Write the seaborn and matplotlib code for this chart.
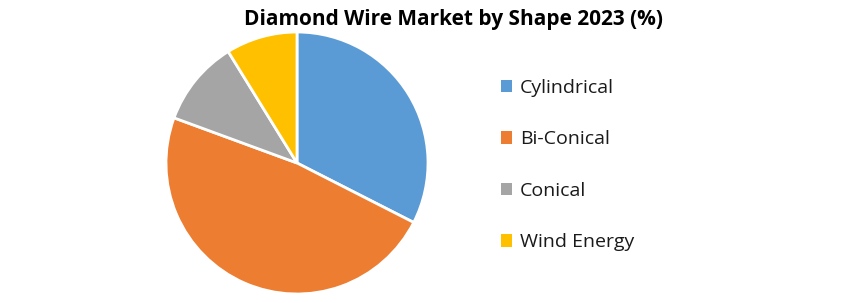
import matplotlib
matplotlib.use("Agg")
import matplotlib.pyplot as plt
import seaborn as sns
from matplotlib.patches import Patch

categories = ["Cylindrical", "Bi-Conical", "Conical", "Wind Energy"]
values = [32.5, 48.1, 10.6, 8.8]
colors = ["#5B9BD5", "#ED7D31", "#A5A5A5", "#FFC000"]
title = "Diamond Wire Market by Shape 2023 (%)"

sns.set_theme(style="white")
plt.rcParams["font.family"] = ["Open Sans", "DejaVu Sans"]
palette = sns.color_palette(colors)

W, H = 864, 303
fig = plt.figure(figsize=(W / 100, H / 100), dpi=100)
cx, cy, r = 297, 163, 131
ax = fig.add_axes([(cx - r) / W, (H - cy - r) / H, 2 * r / W, 2 * r / H])
ax.pie(values, colors=palette, startangle=90, counterclock=False,
       wedgeprops=dict(edgecolor="white", linewidth=2), radius=1)
ax.set_xlim(-1, 1)
ax.set_ylim(-1, 1)
ax.set_aspect("auto")
ax.axis("off")

fig.text(453 / W, 1 - 19 / H, title, ha="center", va="center",
         fontsize=15, fontweight="bold", color="black")

handles = [Patch(facecolor=c, edgecolor="none") for c in palette]
fig.legend(handles, categories, loc="center left",
           bbox_to_anchor=(483 / W, 1 - 165 / H), frameon=False,
           fontsize=14, handlelength=0.6, handleheight=0.6,
           handletextpad=0.4, labelspacing=1.73, labelcolor="#1a1a1a")

fig.savefig("out.png", dpi=100, facecolor="white")
